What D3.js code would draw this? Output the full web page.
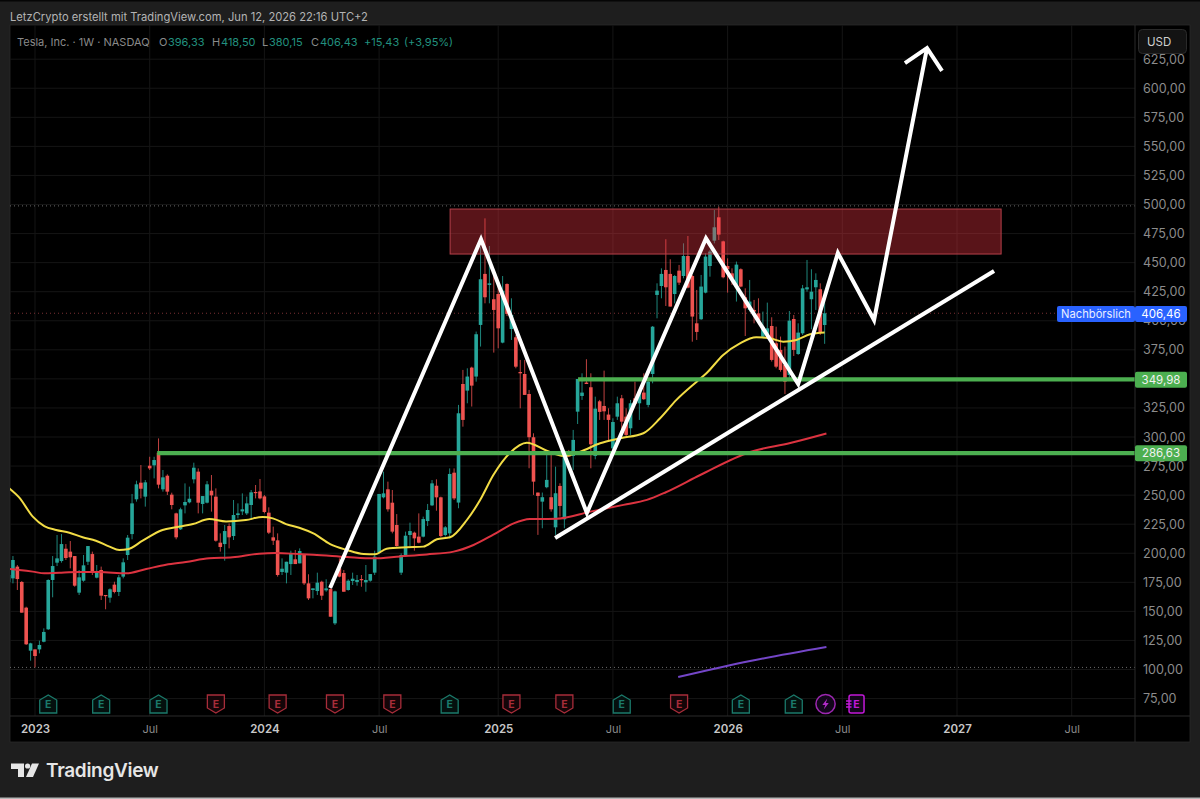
<!DOCTYPE html>
<html lang="en">
<head>
    <meta charset="UTF-8">
    <title>Tesla, Inc. 1W</title>
    <script src="https://d3js.org/d3.v7.min.js"></script>
    <style>
        html, body { margin: 0; padding: 0; background: #1e1e1e; }
        svg { display: block; font-family: Inter, "Noto Sans", sans-serif; }
    </style>
</head>
<body>
    <div id="chart"></div>

    <script>
        // weekly candles, first one is 6 weeks before the 2023 label
        const firstWeek = -6;
        const opens = [
            175,178.4,188.5,175.3,153.2,116.2,117.3,117.3,123.9,134.6,
            177,191.9,193.3,203.9,201.4,197.6,166.1,176.4,192.7,199.3,
            179,185.6,164.1,161.8,173,166.7,179.9,198.5,216.5,246.4,
            260.7,248.7,275.3,275.6,286.5,255,266.7,250.4,234.3,220.6,
            241.2,243.8,263.6,270.2,242.4,243.5,253.8,248.7,209.1,207.9,
            223.4,214.8,232.9,236,234.3,241.5,252.7,253.2,248.9,234.9,
            213.7,211.1,183.9,183.3,190.7,194.8,191.3,198.5,174.1,168.4,
            167.5,175.5,168.1,169.2,139.7,187,183,168.4,176.1,175.3,
            177.8,175,176.4,183.3,200.5,248.1,255,243.5,224.3,183.3,
            197.6,215.7,217.7,214.3,214.3,227.7,241.2,258.1,248.1,215.7,
            217.1,269.3,243.6,345.6,339.9,359.7,352,396.4,440.3,430.8,
            418.5,423,381.2,431.6,392.9,385.8,355.9,354.2,337,299.8,
            252.2,244.4,256.8,248.2,222.3,257.9,229.2,287.4,283.7,321.8,
            335.3,346.8,342.8,283.7,330.7,326.7,319.3,290.3,317.5,333.3,
            317.5,307.5,333.3,329,338.2,327.6,354.2,422.2,429.9,443.7,
            440.3,423,443.1,438.5,455.7,438.5,397.8,401.3,424.2,447.1,
            468.9,489,468.3,447.1,440.8,428.8,444.3,420.2,409.3,409.3,
            406.4,386.3,387.8,395.5,380.6,374.9,362,353.4,401.5,371.4,
            389.2,427,418.5,428.8,427.1,396.33
        ];
        const highs = [
            182.7,197.6,189.9,176.1,154,123,117.3,124.8,135.4,177.6,
            197.6,215.7,216.5,207.9,210.5,197.6,185.6,198.5,206.2,201.4,
            189.9,188.5,164.1,169.8,175.5,181.3,195.6,215.7,251,262.4,
            275.9,263,283,283,298.8,271.6,267.9,252.1,234.9,239.2,
            260.1,257.3,277.9,273,249.2,262.1,267.3,255.8,217.1,224.3,
            225.7,245.8,242.9,251.5,248.7,254.4,258.7,263.9,250.1,239.5,
            222.9,217.1,195.6,192.7,202.2,202.8,204.2,199.1,181.9,169.8,
            183.3,176.4,177.6,169.8,167.8,195.6,185.6,177.6,183.3,181.3,
            181.3,189.9,182.1,202.2,251,270.2,261.6,254.4,233.7,199.9,
            218.6,226.3,218.6,234.3,231.5,242.4,263,263.6,248.7,223.4,
            273,273,327.6,357.7,359.1,360.5,390.7,463.8,488.1,464.3,
            439.4,430.8,438.5,432.2,419.3,387.8,366.3,366.3,340.5,303.2,
            252.2,252.2,284.6,284.6,274.5,260.2,286,288.9,306.1,349.9,
            354.8,366.9,354.8,334.7,331.9,357.1,324.7,316.1,334.7,336.2,
            324.7,331.9,347.6,340.5,354.8,350.5,395.5,432.2,445.1,470.1,
            452.9,439.4,448,466.6,472.9,439.4,426.5,439.4,458,460.9,
            495.3,498.2,468.9,453.7,445.1,450.9,445.1,427.9,435.1,417.9,
            419.3,407.9,415.6,403,394.9,386.4,377.8,408.4,405,397.8,
            430.8,452.3,444.3,440.8,432.2,418.5
        ];
        const lows = [
            174.1,174.1,168.4,148.9,121.1,107.6,101.8,113.9,123.4,134,
            162.1,189,191.9,194.2,187,171.2,164.1,175.5,189.9,181.3,
            178.4,159.8,151.8,157.5,165.5,163.2,178.4,194.2,212,244.4,
            247.2,240.1,271.6,264.4,255.8,253,250.1,237.8,212,220,
            234.3,242.9,260.1,234.3,234.3,242.9,235.8,210,201.4,193.6,
            204.2,211.4,230,232.9,232.9,228.6,247.2,246.4,234.3,216.5,
            207.1,179.9,181.3,174.1,181.3,190.7,191.3,172.7,159.8,161.2,
            164.1,159.8,166.9,145.4,138.3,179.3,166.9,167.8,172.7,172.1,
            171.2,166.9,175.5,181.3,199.9,247.2,235.8,217.1,205.7,181.3,
            197,206.2,202.2,208.5,213.7,223.4,240.6,236.6,213.7,214.3,
            212.8,245.8,238.7,308.9,329,326.2,347.6,377.8,415,415,
            372.6,376.3,380.6,404.1,383.5,359.1,324.7,336.2,273.1,250.2,
            215.8,221.5,255.9,235.8,215.8,231.5,221.5,283.1,271.7,311.2,
            331.9,345.6,273.1,280.8,314.7,314.7,296.9,288.9,314.7,300.3,
            300.3,301.8,327.6,314.7,331.9,325.6,346.2,402.1,419.3,412.7,
            412.2,415,430.8,436.5,427.9,382,383.5,400.7,423.6,437.9,
            466.6,469.5,436.5,424.2,430.8,416.5,428.8,386.9,407.9,397.8,
            397.8,384.9,384.9,364.9,359.1,356.2,337,350.5,369.7,370.6,
            387.8,425,392.7,409.3,387.8,380.15
        ];
        const closes = [
            181.3,194.2,177.8,148.9,121.7,122.5,111.6,121.1,132.3,177,
            189,195.6,207.9,195.9,196.5,172.1,179.3,189.6,206.2,183.3,
            184.2,163.5,163.5,169,166.7,179.3,192.2,213.4,242.9,259.3,
            255.5,261,273,280.2,259,265.3,253,241.5,213.7,237.8,
            244.1,246.9,273.6,243.5,249.2,259.3,249.8,210.8,205.4,219.1,
            213.7,232.9,234.3,237.8,242.9,252.4,252.1,247.2,235.5,217.7,
            210.8,181.3,186.7,192.7,199.3,190.7,201.9,174.1,161.2,169.8,
            174.7,163.5,169.8,145.4,167.2,179.9,166.9,176.4,178.1,177,
            177.3,177,182.1,197.1,251,251.5,237.8,218.6,206.2,198.5,
            215.1,219.1,212.8,209.1,229.4,237.2,260.1,248.1,214.8,222.3,
            268.2,247.2,320.4,314.7,352,344.2,388.4,435.7,420.2,432.2,
            409.3,393.5,425.9,405.9,405,360.5,354.8,336.2,299.8,261.6,
            249.3,248.2,263.1,237.8,251.6,240.7,284.6,283.1,297.5,349.9,
            338.2,345.6,293.7,324.4,321.6,322.1,314.7,312.9,329,313.2,
            301.8,329,328.4,339,332.5,347.6,394.9,425.9,440.3,428.8,
            412.2,438.5,432.8,455.7,428.5,403.6,390.4,429.4,455.2,459.5,
            480.4,474.1,437.4,444.3,436.5,448.3,429.4,410.7,416.5,407.9,
            400.7,394.9,393.5,366.3,360.5,357.7,347.6,400.1,374.9,389.8,
            427.9,428.8,425,435.1,390.1,406.43
        ];

        // moving averages
        const yellowWeeks = [-5.8,-3.6,-0.5,2.1,4.8,7.8,10.8,13.8,16.9,19.1,21,24.4,28.9,32,35.8,39.5,43.3,47.8,51.6,53.9,56.9,59.9,63.1,66.9,70.7,74.5,77.1,79.7,84.3,88,91.1,94.1,97.9,100.9,103.9,107.7,111.5,116,119.8,123.6,128.1,132.7,137.9,141.7,145.4,150,152.2,156,159.8,163.5,166.6,169.6,172.6,175.7,179];
        const yellowValues = [255.8,248.1,231.5,223.4,220,217.7,213.7,210.8,205.7,202.8,203.4,210.8,220,222.3,225.1,229.4,227.4,228.6,231.2,230,225.1,222,217.1,207.9,202.8,199.3,199.1,203.9,205.1,205.7,212,213.7,228.6,245.8,267.3,286.5,295.1,288.2,283.6,287.4,294.6,298.9,303.2,316.1,331.9,347.6,354.8,370.6,380.6,385.8,384.9,382,383.5,388.4,389.8];
        const redWeeks = [-5.8,-3.6,-0.5,2.1,5.5,10,14.6,20.6,25.2,29.7,34.2,39.5,44.8,50.8,54.6,59.9,63.1,70.7,76.7,82.8,88.8,94.9,99.4,103.9,108.5,112.2,118.3,125.9,133.4,138.7,143,150.8,162.1,171.2,179.4];
        const redValues = [186.4,185.6,184.2,182.7,183.3,183.9,183.9,182.7,186.4,190.2,192.5,195.6,196.5,199.6,200.2,199.3,198.8,196.8,195.6,197.3,199,201.4,207.1,216,225.7,229.4,229.7,235.8,241.6,245.9,252.5,267.3,287.1,294.8,303];
        const purpleWeeks = [145.8,162.1,179.4];
        const purpleValues = [93.5,107.3,119.4];

        // axes
        const priceTicks = [75,100,125,150,175,200,225,250,275,300,325,350,375,400,425,450,475,500,525,550,575,600,625];
        const weekTicks = [0,26,52,78,105,131,157,183,209,235];
        const weekLabels = ['2023','Jul','2024','Jul','2025','Jul','2026','Jul','2027','Jul'];

        // drawings on the chart
        const zoneWeeks = [94.1,219];
        const zonePrices = [496.1,457.4];
        const levelPrices = [349.98,286.63];
        const levelStartWeeks = [123.1,27.7];
        const zigzagWeeks = [66.9,101.1,125.1,152.1,173,182,190.2,202.2];
        const zigzagPrices = [170.1,470.1,234.6,470.9,345.6,458.3,400.6,634.6];
        const arrowWeeks = [197.2,202.2,205.6];
        const arrowPrices = [621.7,634.6,614.9];
        const trendWeeks = [117.9,217.4];
        const trendPrices = [213.1,442.8];

        // price lines
        const highLowPrices = [498.8,101.8];
        const afterHoursPrice = 406.46;

        // earnings flags
        const earningsWeeks = [3,15,28,41,55,68,81,94,108,120,133,146,160,172];
        const earningsBeat = [true,true,true,false,false,false,false,true,false,false,true,false,true,true];
        const splitsWeek = 179.2;
        const nextEarningsWeek = 186;

        const W = 1200, H = 799;
        const plotLeft = 10, plotRight = 1135, plotTop = 25, plotBottom = 716, frameBottom = 742, frameRight = 1190;
        const commaFmt = v => d3.format('.2f')(v).replace('.', ',');

        const svg = d3.select('#chart').append('svg').attr('width', W).attr('height', H);

        const x = d3.scaleLinear().domain([0, 209]).range([35, 957]);
        const y = d3.scaleLinear().domain([100, 625]).range([669.5, 59.2]);

        svg.append('rect').attr('width', W).attr('height', H).attr('fill', '#1e1e1e');
        svg.append('rect').attr('width', W).attr('height', 1.5).attr('fill', '#050505');
        svg.append('rect').attr('y', H - 1.5).attr('width', W).attr('height', 1.5).attr('fill', '#b8b8b8');
        svg.append('rect').attr('x', plotLeft).attr('y', plotTop)
            .attr('width', frameRight - plotLeft).attr('height', frameBottom - plotTop)
            .attr('fill', '#000').attr('stroke', '#2a2a2a').attr('stroke-width', 0.8);

        svg.append('clipPath').attr('id', 'plot').append('rect')
            .attr('x', plotLeft).attr('y', plotTop).attr('width', plotRight - plotLeft).attr('height', plotBottom - plotTop);

        // grid
        const grid = svg.append('g').attr('stroke', '#151515').attr('stroke-width', 1);
        grid.selectAll('.h').data(priceTicks).enter().append('line')
            .attr('x1', plotLeft).attr('x2', plotRight).attr('y1', d => y(d)).attr('y2', d => y(d));
        grid.selectAll('.v').data(weekTicks).enter().append('line')
            .attr('x1', d => x(d)).attr('x2', d => x(d)).attr('y1', plotTop).attr('y2', plotBottom);

        const plot = svg.append('g').attr('clip-path', 'url(#plot)');

        // high, low and after hours price lines
        plot.selectAll('.hl').data(highLowPrices).enter().append('line')
            .attr('x1', plotLeft).attr('x2', plotRight).attr('y1', d => y(d)).attr('y2', d => y(d))
            .attr('stroke', '#6b6b6b').attr('stroke-dasharray', '1 3');
        plot.append('line')
            .attr('x1', plotLeft).attr('x2', 1057).attr('y1', y(afterHoursPrice)).attr('y2', y(afterHoursPrice))
            .attr('stroke', '#7a3034').attr('stroke-dasharray', '1 3');

        // candles
        const candles = closes.map((c, i) => ({ week: firstWeek + i, o: opens[i], h: highs[i], l: lows[i], c: c }));
        const colour = d => d.c >= d.o ? '#26a69a' : '#ef5350';
        const candle = plot.selectAll('.candle').data(candles).enter().append('g');
        candle.append('line')
            .attr('x1', d => x(d.week)).attr('x2', d => x(d.week))
            .attr('y1', d => y(d.h)).attr('y2', d => y(d.l))
            .attr('stroke', colour).attr('stroke-width', 1).attr('stroke-opacity', 0.8);
        candle.append('rect')
            .attr('x', d => x(d.week) - 1.8).attr('width', 3.6)
            .attr('y', d => y(Math.max(d.o, d.c)))
            .attr('height', d => Math.max(1.2, Math.abs(y(d.o) - y(d.c))))
            .attr('fill', colour);

        // moving averages
        const maLine = d3.line().x(d => x(d[0])).y(d => y(d[1])).curve(d3.curveMonotoneX);
        [[yellowWeeks, yellowValues, '#f2dc45', 2], [redWeeks, redValues, '#dc3340', 2], [purpleWeeks, purpleValues, '#7446c8', 2]]
            .forEach(s => {
                plot.append('path').datum(d3.zip(s[0], s[1]))
                    .attr('fill', 'none').attr('stroke', s[2]).attr('stroke-width', s[3]).attr('d', maLine);
            });

        // resistance zone
        plot.append('rect')
            .attr('x', x(zoneWeeks[0])).attr('width', x(zoneWeeks[1]) - x(zoneWeeks[0]))
            .attr('y', y(zonePrices[0])).attr('height', y(zonePrices[1]) - y(zonePrices[0]))
            .attr('fill', 'rgba(242,54,69,0.37)').attr('stroke', '#b5404a').attr('stroke-width', 1);

        // support levels
        plot.selectAll('.level').data(levelPrices).enter().append('line')
            .attr('x1', (d, i) => x(levelStartWeeks[i])).attr('x2', plotRight)
            .attr('y1', d => y(d) + 0.5).attr('y2', d => y(d) + 0.5)
            .attr('stroke', '#4caf50').attr('stroke-width', 4.2);

        // white hand drawn lines
        const straight = d3.line().x(d => x(d[0])).y(d => y(d[1]));
        [[zigzagWeeks, zigzagPrices], [arrowWeeks, arrowPrices], [trendWeeks, trendPrices]].forEach(s => {
            plot.append('path').datum(d3.zip(s[0], s[1]))
                .attr('fill', 'none').attr('stroke', '#fff').attr('stroke-width', 4)
                .attr('stroke-linejoin', 'miter').attr('d', straight);
        });

        // earnings markers
        const flag = svg.append('g').attr('font-size', 10.5).attr('font-weight', 700).attr('text-anchor', 'middle');
        const flags = earningsWeeks.map((w, i) => ({ week: w, beat: earningsBeat[i] }));
        const flagG = flag.selectAll('.flag').data(flags).enter().append('g')
            .attr('transform', d => `translate(${x(d.week)},704)`);
        flagG.append('path')
            .attr('d', d => d.beat
                ? 'M-8.5,9 L-8.5,-4 L0,-9 L8.5,-4 L8.5,9 Z'
                : 'M-8.5,-9 L8.5,-9 L8.5,4 L0,9 L-8.5,4 Z')
            .attr('fill', d => d.beat ? '#04100e' : '#140508')
            .attr('stroke', d => d.beat ? '#1b7a6b' : '#a82d3a').attr('stroke-width', 1.3);
        flagG.append('text').attr('y', 3.8)
            .attr('fill', d => d.beat ? '#1b7a6b' : '#a82d3a').text('E');

        const bolt = svg.append('g').attr('transform', `translate(${x(splitsWeek)},704)`);
        bolt.append('circle').attr('r', 9.6).attr('fill', '#12061a').attr('stroke', '#9c27b0').attr('stroke-width', 1.5);
        bolt.append('path').attr('d', 'M1.8,-5.5 L-3.2,1 L-0.3,1 L-1.8,5.5 L3.2,-1 L0.3,-1 Z').attr('fill', '#b02bc6');

        const nextFlag = svg.append('g').attr('transform', `translate(${x(nextEarningsWeek)},704)`);
        nextFlag.append('rect').attr('x', -6.5).attr('y', -9).attr('width', 15).attr('height', 18).attr('rx', 2)
            .attr('fill', '#12061a').attr('stroke', '#c218d8').attr('stroke-width', 1.5);
        nextFlag.append('path').attr('d', 'M-9.5,-3 H-4 M-9.5,0 H-4 M-9.5,3 H-4').attr('stroke', '#c218d8').attr('stroke-width', 1.3);
        nextFlag.append('text').attr('x', 1).attr('y', 3.8).attr('text-anchor', 'middle')
            .attr('font-size', 10.5).attr('font-weight', 700).attr('fill', '#c218d8').text('E');

        // frame lines
        svg.append('line').attr('x1', plotLeft).attr('x2', frameRight).attr('y1', plotBottom).attr('y2', plotBottom).attr('stroke', '#2a2a2a');
        svg.append('line').attr('x1', plotRight).attr('x2', plotRight).attr('y1', plotTop).attr('y2', frameBottom).attr('stroke', '#2a2a2a');

        // price axis
        const yAxis = svg.append('g').attr('transform', `translate(${plotRight},0)`)
            .call(d3.axisRight(y).tickValues(priceTicks).tickSize(0).tickPadding(8).tickFormat(commaFmt));
        yAxis.select('.domain').remove();
        yAxis.selectAll('text').attr('fill', '#8c8c8c').attr('font-size', 12.6).attr('font-family', 'Inter, sans-serif');

        // time axis
        const xAxis = svg.append('g').attr('transform', `translate(0,${plotBottom})`)
            .call(d3.axisBottom(x).tickValues(weekTicks).tickSize(0).tickPadding(9)
                .tickFormat((d, i) => weekLabels[i]));
        xAxis.select('.domain').remove();
        xAxis.selectAll('text')
            .attr('fill', (d, i) => weekLabels[i] === 'Jul' ? '#8c8c8c' : '#c8c8c8')
            .attr('font-weight', (d, i) => weekLabels[i] === 'Jul' ? 400 : 600)
            .attr('font-size', (d, i) => weekLabels[i] === 'Jul' ? 11 : 11.5)
            .attr('font-family', 'Inter, sans-serif');

        // price tags
        const tag = (tx, tw, cy, h, fill, label, tc, fs) => {
            svg.append('rect').attr('x', tx).attr('y', cy - h / 2).attr('width', tw).attr('height', h).attr('rx', 2).attr('fill', fill);
            svg.append('text').attr('x', tx + tw / 2).attr('y', cy + 4).attr('text-anchor', 'middle')
                .attr('font-size', fs).attr('fill', tc).text(label);
        };
        tag(1057, 78, y(afterHoursPrice) + 0.7, 16, '#2962ff', 'Nachbörslich', '#e8eeff', 11.2);
        tag(1135, 52, y(afterHoursPrice) + 0.7, 16, '#2962ff', commaFmt(afterHoursPrice), '#fff', 11.5);
        tag(1135, 52, y(levelPrices[0]) + 0.8, 16, '#4caf50', commaFmt(levelPrices[0]), '#f2f2f2', 11.5);
        tag(1135, 52, y(levelPrices[1]) + 0.8, 16, '#4caf50', commaFmt(levelPrices[1]), '#f2f2f2', 11.5);

        // currency button
        svg.append('rect').attr('x', 1138.5).attr('y', 29.5).attr('width', 48).attr('height', 24).attr('rx', 4)
            .attr('fill', '#131313').attr('stroke', '#2a2a2a');
        svg.append('text').attr('x', 1147).attr('y', 46).attr('font-size', 11.5).attr('fill', '#cfcfcf').text('USD');

        // header
        svg.append('text').attr('x', 10).attr('y', 21).attr('font-size', 11.2).attr('fill', '#b4b4b4')
            .text('LetzCrypto erstellt mit TradingView.com, Jun 12, 2026 22:16 UTC+2');

        const legendTeal = '#22917f', legendGrey = '#8a8a8a';
        const legend = [
            [17, 'Tesla, Inc. · 1W · NASDAQ', legendGrey],
            [159, 'O', legendGrey], [168, '396,33', legendTeal],
            [212, 'H', legendGrey], [221, '418,50', legendTeal],
            [262, 'L', legendGrey], [269, '380,15', legendTeal],
            [311, 'C', legendGrey], [320, '406,43', legendTeal],
            [364, '+15,43', legendTeal], [404, '(+3,95%)', legendTeal]
        ];
        svg.selectAll('.legend').data(legend).enter().append('text')
            .attr('x', d => d[0]).attr('y', 46).attr('font-size', 11)
            .attr('fill', d => d[2]).text(d => d[1]);

        // TradingView logo
        const logo = svg.append('g').attr('fill', '#e6e6e6');
        logo.append('path').attr('d', 'M11,763.5 H24 V777 H18 V769 H11 Z');
        logo.append('circle').attr('cx', 27.6).attr('cy', 766).attr('r', 2.6);
        logo.append('path').attr('d', 'M32,763.5 H39 L33,777 H26 Z');
        logo.append('text').attr('x', 46).attr('y', 777).attr('font-size', 19).attr('font-weight', 600)
            .attr('letter-spacing', -0.3).text('TradingView');
    </script>
</body>
</html>
